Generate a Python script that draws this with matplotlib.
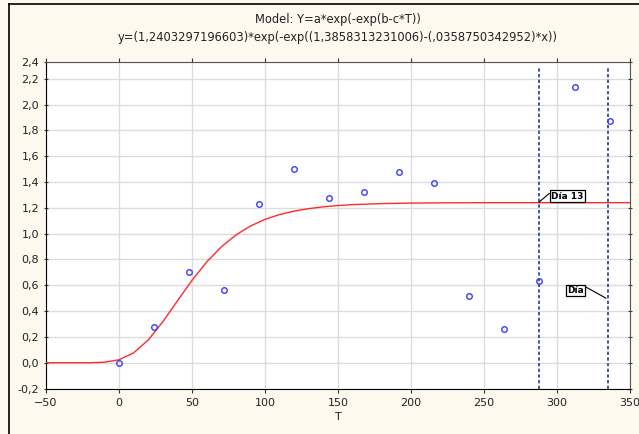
"""Gompertz fit of growth vs. T, Statistica-style rendering."""

import matplotlib

matplotlib.use("Agg")

import matplotlib.pyplot as plt
from matplotlib.lines import Line2D

# observed points
t_obs = [0, 24, 48, 72, 96, 120, 144, 168, 192, 216, 240, 264, 288, 312, 336]
y_obs = [0.0, 0.28, 0.70, 0.56, 1.23, 1.50, 1.28, 1.32, 1.48, 1.39,
         0.52, 0.26, 0.63, 2.14, 1.87]

# fitted curve
t_fit = [-50, -40, -30, -20, -10, 0, 10, 20, 30, 40, 50, 60, 70, 80, 90,
         100, 110, 120, 130, 140, 150, 160, 170, 180, 200, 225, 250, 300, 350]
y_fit = [0.0, 0.0, 0.0, 0.0003, 0.004, 0.023, 0.076, 0.176, 0.317, 0.479,
         0.638, 0.780, 0.897, 0.989, 1.059, 1.111, 1.148, 1.175, 1.194,
         1.208, 1.218, 1.225, 1.229, 1.233, 1.237, 1.239, 1.240, 1.240, 1.240]

# vertical markers
day_lines = [287.7, 334.7]

x_ticks = [-50, 0, 50, 100, 150, 200, 250, 300, 350]
y_ticks = [-0.2, 0.0, 0.2, 0.4, 0.6, 0.8, 1.0, 1.2, 1.4, 1.6, 1.8, 2.0, 2.2, 2.33]
y_tick_labels = ["-0,2", "0,0", "0,2", "0,4", "0,6", "0,8", "1,0", "1,2",
                 "1,4", "1,6", "1,8", "2,0", "2,2", "2,4"]

title_1 = "Model: Y=a*exp(-exp(b-c*T))"
title_2 = "y=(1,2403297196603)*exp(-exp((1,3858313231006)-(,0358750342952)*x))"

BG = "#fdf9ee"
W, H = 639, 434

fig = plt.figure(figsize=(W / 100, H / 100), dpi=100, facecolor=BG)
ax = fig.add_axes([46 / W, 1 - 389 / H, (630 - 46) / W, (389 - 62) / H])
ax.set_facecolor("white")

# outer window border (left + top)
fig.add_artist(Line2D([9 / W, 9 / W], [0, 1 - 4 / H], color="black", lw=1.2,
                      transform=fig.transFigure))
fig.add_artist(Line2D([9 / W, 1], [1 - 4 / H, 1 - 4 / H], color="black", lw=1.2,
                      transform=fig.transFigure))

ax.grid(True, color="#dcdcdc", lw=1.0)
ax.set_axisbelow(True)

ax.plot(t_fit, y_fit, color="#ff2a2a", lw=1.0, zorder=3)
ax.plot(t_obs, y_obs, linestyle="none", marker="o", markersize=4.0,
        markerfacecolor="none", markeredgecolor="#3c3cff", mew=1.0, zorder=4)

for xv in day_lines:
    ax.axvline(xv, ymax=0.985, color="#1f3f8c", lw=1.2, ls=(0, (2.0, 1.4)), zorder=3)

box = dict(boxstyle="square,pad=0.15", fc="white", ec="black", lw=0.9)
ax.annotate("Día 13", xy=(287.7, 1.244), xytext=(296, 1.255),
            fontsize=6.5, fontweight="bold", va="bottom", ha="left", bbox=box,
            arrowprops=dict(arrowstyle="-", lw=0.8, color="black", relpos=(0, 1),
                            shrinkA=0, shrinkB=0), zorder=5)
ax.annotate("Día", xy=(333.6, 0.50), xytext=(307, 0.525),
            fontsize=6.5, fontweight="bold", va="bottom", ha="left", bbox=box,
            arrowprops=dict(arrowstyle="-", lw=0.8, color="black", relpos=(1, 1),
                            shrinkA=0, shrinkB=0), zorder=5)

ax.set_xlim(-50, 350)
ax.set_ylim(-0.2035, 2.33)
ax.set_xticks(x_ticks)
ax.set_yticks(y_ticks)
ax.set_yticklabels(y_tick_labels)
ax.tick_params(labelsize=8, colors="#333333", length=3, width=0.8,
               top=True, right=True, direction="out")
ax.tick_params(axis="both", which="both", labelcolor="#222222")
ax.tick_params(axis="y", which="both", right=True, direction="inout")
for s in ("top", "right"):
    ax.spines[s].set_color("#555555")
ax.set_xlabel("T", fontsize=8, color="#222222", labelpad=3)

fig.text(338 / W, 1 - 20 / H, title_1, ha="center", va="center", fontsize=8.3,
         color="#222222")
fig.text(338 / W, 1 - 37 / H, title_2, ha="center", va="center", fontsize=8.3,
         color="#222222")

fig.savefig("out.png", dpi=100, facecolor=BG)
plt.close(fig)
